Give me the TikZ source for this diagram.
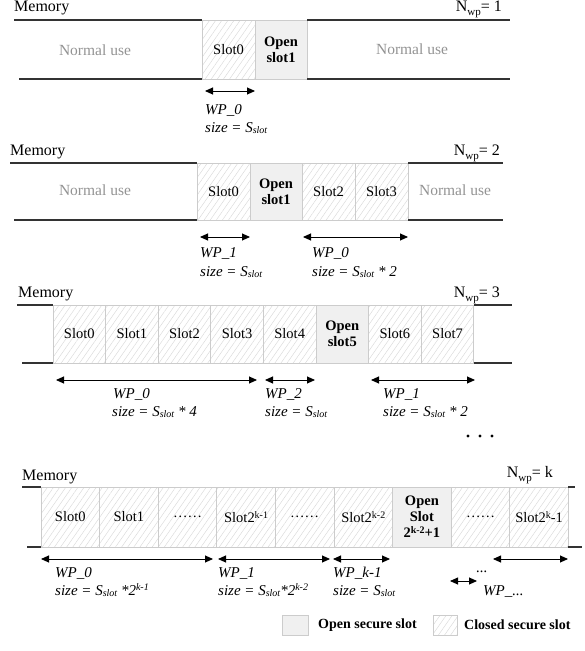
\documentclass[tikz,border=0pt]{standalone}
\usepackage{fontspec}
\setmainfont{Liberation Serif}
\usetikzlibrary{arrows.meta,patterns.meta}
\newcommand{\mysub}[1]{\raisebox{-0.25ex}{\fontsize{10}{10}\selectfont #1}}
\newcommand{\mysubn}[1]{\raisebox{-0.55ex}{\fontsize{11}{11}\selectfont #1}}
\newcommand{\mysup}[1]{\raisebox{0.7ex}{\fontsize{10}{10}\selectfont #1}}
\tikzset{
  slotbase/.style={draw=gray!40, line width=0.8pt, inner sep=0pt, outer sep=0pt, anchor=north west,
    align=center, font=\fontsize{14.5}{16}\selectfont},
  closedslot/.style={slotbase, pattern={Lines[angle=55,distance=5pt,line width=0.45pt]}, pattern color=gray!30},
  openslot/.style={slotbase, fill=gray!12, font=\fontsize{14.5}{16}\selectfont\bfseries},
  memline/.style={draw=black!80, line width=1.2pt},
  memtext/.style={inner sep=0pt, font=\fontsize{16}{18}\selectfont},
  normaltext/.style={inner sep=0pt, text=gray!85, font=\fontsize{15.5}{18}\selectfont},
  wplab/.style={inner sep=0pt, anchor=base west, font=\fontsize{15}{17}\selectfont\itshape},
  wparrow/.style={{Triangle[length=8pt,width=7pt]}-{Triangle[length=8pt,width=7pt]}, line width=0.9pt},
  legtext/.style={inner sep=0pt, anchor=west, font=\fontsize{14}{16}\selectfont\bfseries},
}
\begin{document}
\begin{tikzpicture}[x=1pt,y=-1pt]
\useasboundingbox (0,0) rectangle (585,651);

% ---------------- Section 1 ----------------
\node[memtext, anchor=base west] (m1) at (14,11) {Memory};
\node[memtext, anchor=base east] (n1) at (502,11) {N\mysubn{wp}= 1};
\node[closedslot, minimum width=53, minimum height=59] (a0) at (202,20) {Slot0};
\node[openslot, minimum width=52, minimum height=59] (a1) at (255,20) {Open\\slot1};
\coordinate (t1l) at (14,20); \coordinate (t1r) at (510,20);
\coordinate (b1l) at (19,79); \coordinate (b1r) at (510,79);
\draw[memline] (t1l) -- (a0.north west);
\draw[memline] (a1.north east) -- (t1r);
\draw[memline] (b1l) -- (a0.south west);
\draw[memline] (a1.south east) -- (b1r);
\node[normaltext] (nu1) at (95,50) {Normal use};
\node[normaltext] (nu2) at (412,49) {Normal use};
\coordinate (w1a) at (205,91); \coordinate (w1b) at (255,91);
\draw[wparrow] (w1a) -- (w1b);
\node[wplab] (l1a) at (205,114) {WP\_0};
\node[wplab] (l1b) at (205,132) {size = S\mysub{slot}};

% ---------------- Section 2 ----------------
\node[memtext, anchor=base west] (m2) at (10,155) {Memory};
\node[memtext, anchor=base east] (n2) at (500,155) {N\mysubn{wp}= 2};
\node[closedslot, minimum width=53, minimum height=57] (b0) at (197,163) {Slot0};
\node[openslot, minimum width=52, minimum height=57] (b1) at (250,163) {Open\\slot1};
\node[closedslot, minimum width=53, minimum height=57] (b2) at (302,163) {Slot2};
\node[closedslot, minimum width=53, minimum height=57] (b3) at (355,163) {Slot3};
\coordinate (t2l) at (10,163); \coordinate (t2r) at (503,163);
\coordinate (b2l) at (14,220); \coordinate (b2r) at (503,220);
\draw[memline] (t2l) -- (b0.north west);
\draw[memline] (b3.north east) -- (t2r);
\draw[memline] (b2l) -- (b0.south west);
\draw[memline] (b3.south east) -- (b2r);
\node[normaltext] (nu3) at (95,190) {Normal use};
\node[normaltext] (nu4) at (455,190) {Normal use};
\coordinate (w2a) at (200,237); \coordinate (w2b) at (250,237);
\coordinate (w2c) at (303,237); \coordinate (w2d) at (408,237);
\draw[wparrow] (w2a) -- (w2b);
\draw[wparrow] (w2c) -- (w2d);
\node[wplab] (l2a) at (200,257) {WP\_1};
\node[wplab] (l2b) at (200,276) {size = S\mysub{slot}};
\node[wplab] (l2c) at (312,257) {WP\_0};
\node[wplab] (l2d) at (312,276) {size = S\mysub{slot} * 2};

% ---------------- Section 3 ----------------
\node[memtext, anchor=base west] (m3) at (18,297) {Memory};
\node[memtext, anchor=base east] (n3) at (500,297) {N\mysubn{wp}= 3};
\node[closedslot, minimum width=52.6, minimum height=58] (c0) at (53,305) {Slot0};
\node[closedslot, minimum width=52.6, minimum height=58] (c1) at (105.6,305) {Slot1};
\node[closedslot, minimum width=52.6, minimum height=58] (c2) at (158.2,305) {Slot2};
\node[closedslot, minimum width=52.6, minimum height=58] (c3) at (210.8,305) {Slot3};
\node[closedslot, minimum width=52.6, minimum height=58] (c4) at (263.4,305) {Slot4};
\node[openslot, minimum width=52.6, minimum height=58] (c5) at (316,305) {Open\\slot5};
\node[closedslot, minimum width=52.6, minimum height=58] (c6) at (368.6,305) {Slot6};
\node[closedslot, minimum width=52.6, minimum height=58] (c7) at (421.2,305) {Slot7};
\coordinate (t3l) at (17,305); \coordinate (t3r) at (512,305);
\coordinate (b3l) at (22,363); \coordinate (b3r) at (512,363);
\draw[memline] (t3l) -- (c0.north west);
\draw[memline] (c7.north east) -- (t3r);
\draw[memline] (b3l) -- (c0.south west);
\draw[memline] (c7.south east) -- (b3r);
\coordinate (w3a) at (56,380); \coordinate (w3b) at (257,380);
\coordinate (w3c) at (265,380); \coordinate (w3d) at (315,380);
\coordinate (w3e) at (371,380); \coordinate (w3f) at (475,380);
\draw[wparrow] (w3a) -- (w3b);
\draw[wparrow] (w3c) -- (w3d);
\draw[wparrow] (w3e) -- (w3f);
\node[wplab] (l3a) at (113,398) {WP\_0};
\node[wplab] (l3b) at (112,416) {size = S\mysub{slot} * 4};
\node[wplab] (l3c) at (265,398) {WP\_2};
\node[wplab] (l3d) at (265,416) {size = S\mysub{slot}};
\node[wplab] (l3e) at (383,398) {WP\_1};
\node[wplab] (l3f) at (383,416) {size = S\mysub{slot} * 2};
\fill (468,436) circle (1.7) (480,436) circle (1.7) (492,436) circle (1.7);

% ---------------- Section 4 ----------------
\node[memtext, anchor=base west] (m4) at (22,480) {Memory};
\node[memtext, anchor=base east] (n4) at (553,477) {N\mysubn{wp}= k};
\node[closedslot, minimum width=58.6, minimum height=60] (d0) at (41,487) {Slot0};
\node[closedslot, minimum width=58.6, minimum height=60] (d1) at (99.6,487) {Slot1};
\node[closedslot, minimum width=58.6, minimum height=60] (d2) at (158.2,487) {……};
\node[closedslot, minimum width=58.6, minimum height=60] (d3) at (216.8,487) {Slot2\mysup{k-1}};
\node[closedslot, minimum width=58.6, minimum height=60] (d4) at (275.4,487) {……};
\node[closedslot, minimum width=58.6, minimum height=60] (d5) at (334,487) {Slot2\mysup{k-2}};
\node[openslot, minimum width=58.6, minimum height=60] (d6) at (392.6,487) {Open\\Slot\\2\mysup{k-2}+1};
\node[closedslot, minimum width=58.6, minimum height=60] (d7) at (451.2,487) {……};
\node[closedslot, minimum width=58.6, minimum height=60] (d8) at (509.8,487) {Slot2\mysup{k}-1};
\coordinate (t4l) at (22,487); \coordinate (t4r) at (575,487);
\coordinate (b4l) at (27,547); \coordinate (b4r) at (582,547);
\draw[memline] (t4l) -- (d0.north west);
\draw[memline] (d8.north east) -- (t4r);
\draw[memline] (b4l) -- (d0.south west);
\draw[memline] (d8.south east) -- (b4r);
\coordinate (w4a) at (41,559); \coordinate (w4b) at (213,559);
\coordinate (w4c) at (218,559); \coordinate (w4d) at (330,559);
\coordinate (w4e) at (333,559); \coordinate (w4f) at (390,559);
\coordinate (w4g) at (493,559); \coordinate (w4h) at (568,559);
\coordinate (w4i) at (450,581); \coordinate (w4j) at (477,581);
\draw[wparrow] (w4a) -- (w4b);
\draw[wparrow] (w4c) -- (w4d);
\draw[wparrow] (w4e) -- (w4f);
\draw[wparrow] (w4g) -- (w4h);
\draw[wparrow] (w4i) -- (w4j);
\node[wplab] (l4a) at (55,577) {WP\_0};
\node[wplab] (l4b) at (55,595) {size = S\mysub{slot} *2\mysup{k-1}};
\node[wplab] (l4c) at (218,577) {WP\_1};
\node[wplab] (l4d) at (218,595) {size = S\mysub{slot}*2\mysup{k-2}};
\node[wplab] (l4e) at (333,577) {WP\_k-1};
\node[wplab] (l4f) at (333,595) {size = S\mysub{slot}};
\node[wplab, anchor=base] (l4g) at (482,572) {...};
\node[wplab] (l4h) at (483,595) {WP\_...};

% ---------------- Legend ----------------
\node[openslot, minimum width=26, minimum height=20] (lg1) at (282,615) {};
\node[legtext] (lt1) at (318,625) {Open secure slot};
\node[closedslot, minimum width=24, minimum height=20] (lg2) at (433,615) {};
\node[legtext] (lt2) at (464,625) {Closed secure slot};
\end{tikzpicture}
\end{document}
